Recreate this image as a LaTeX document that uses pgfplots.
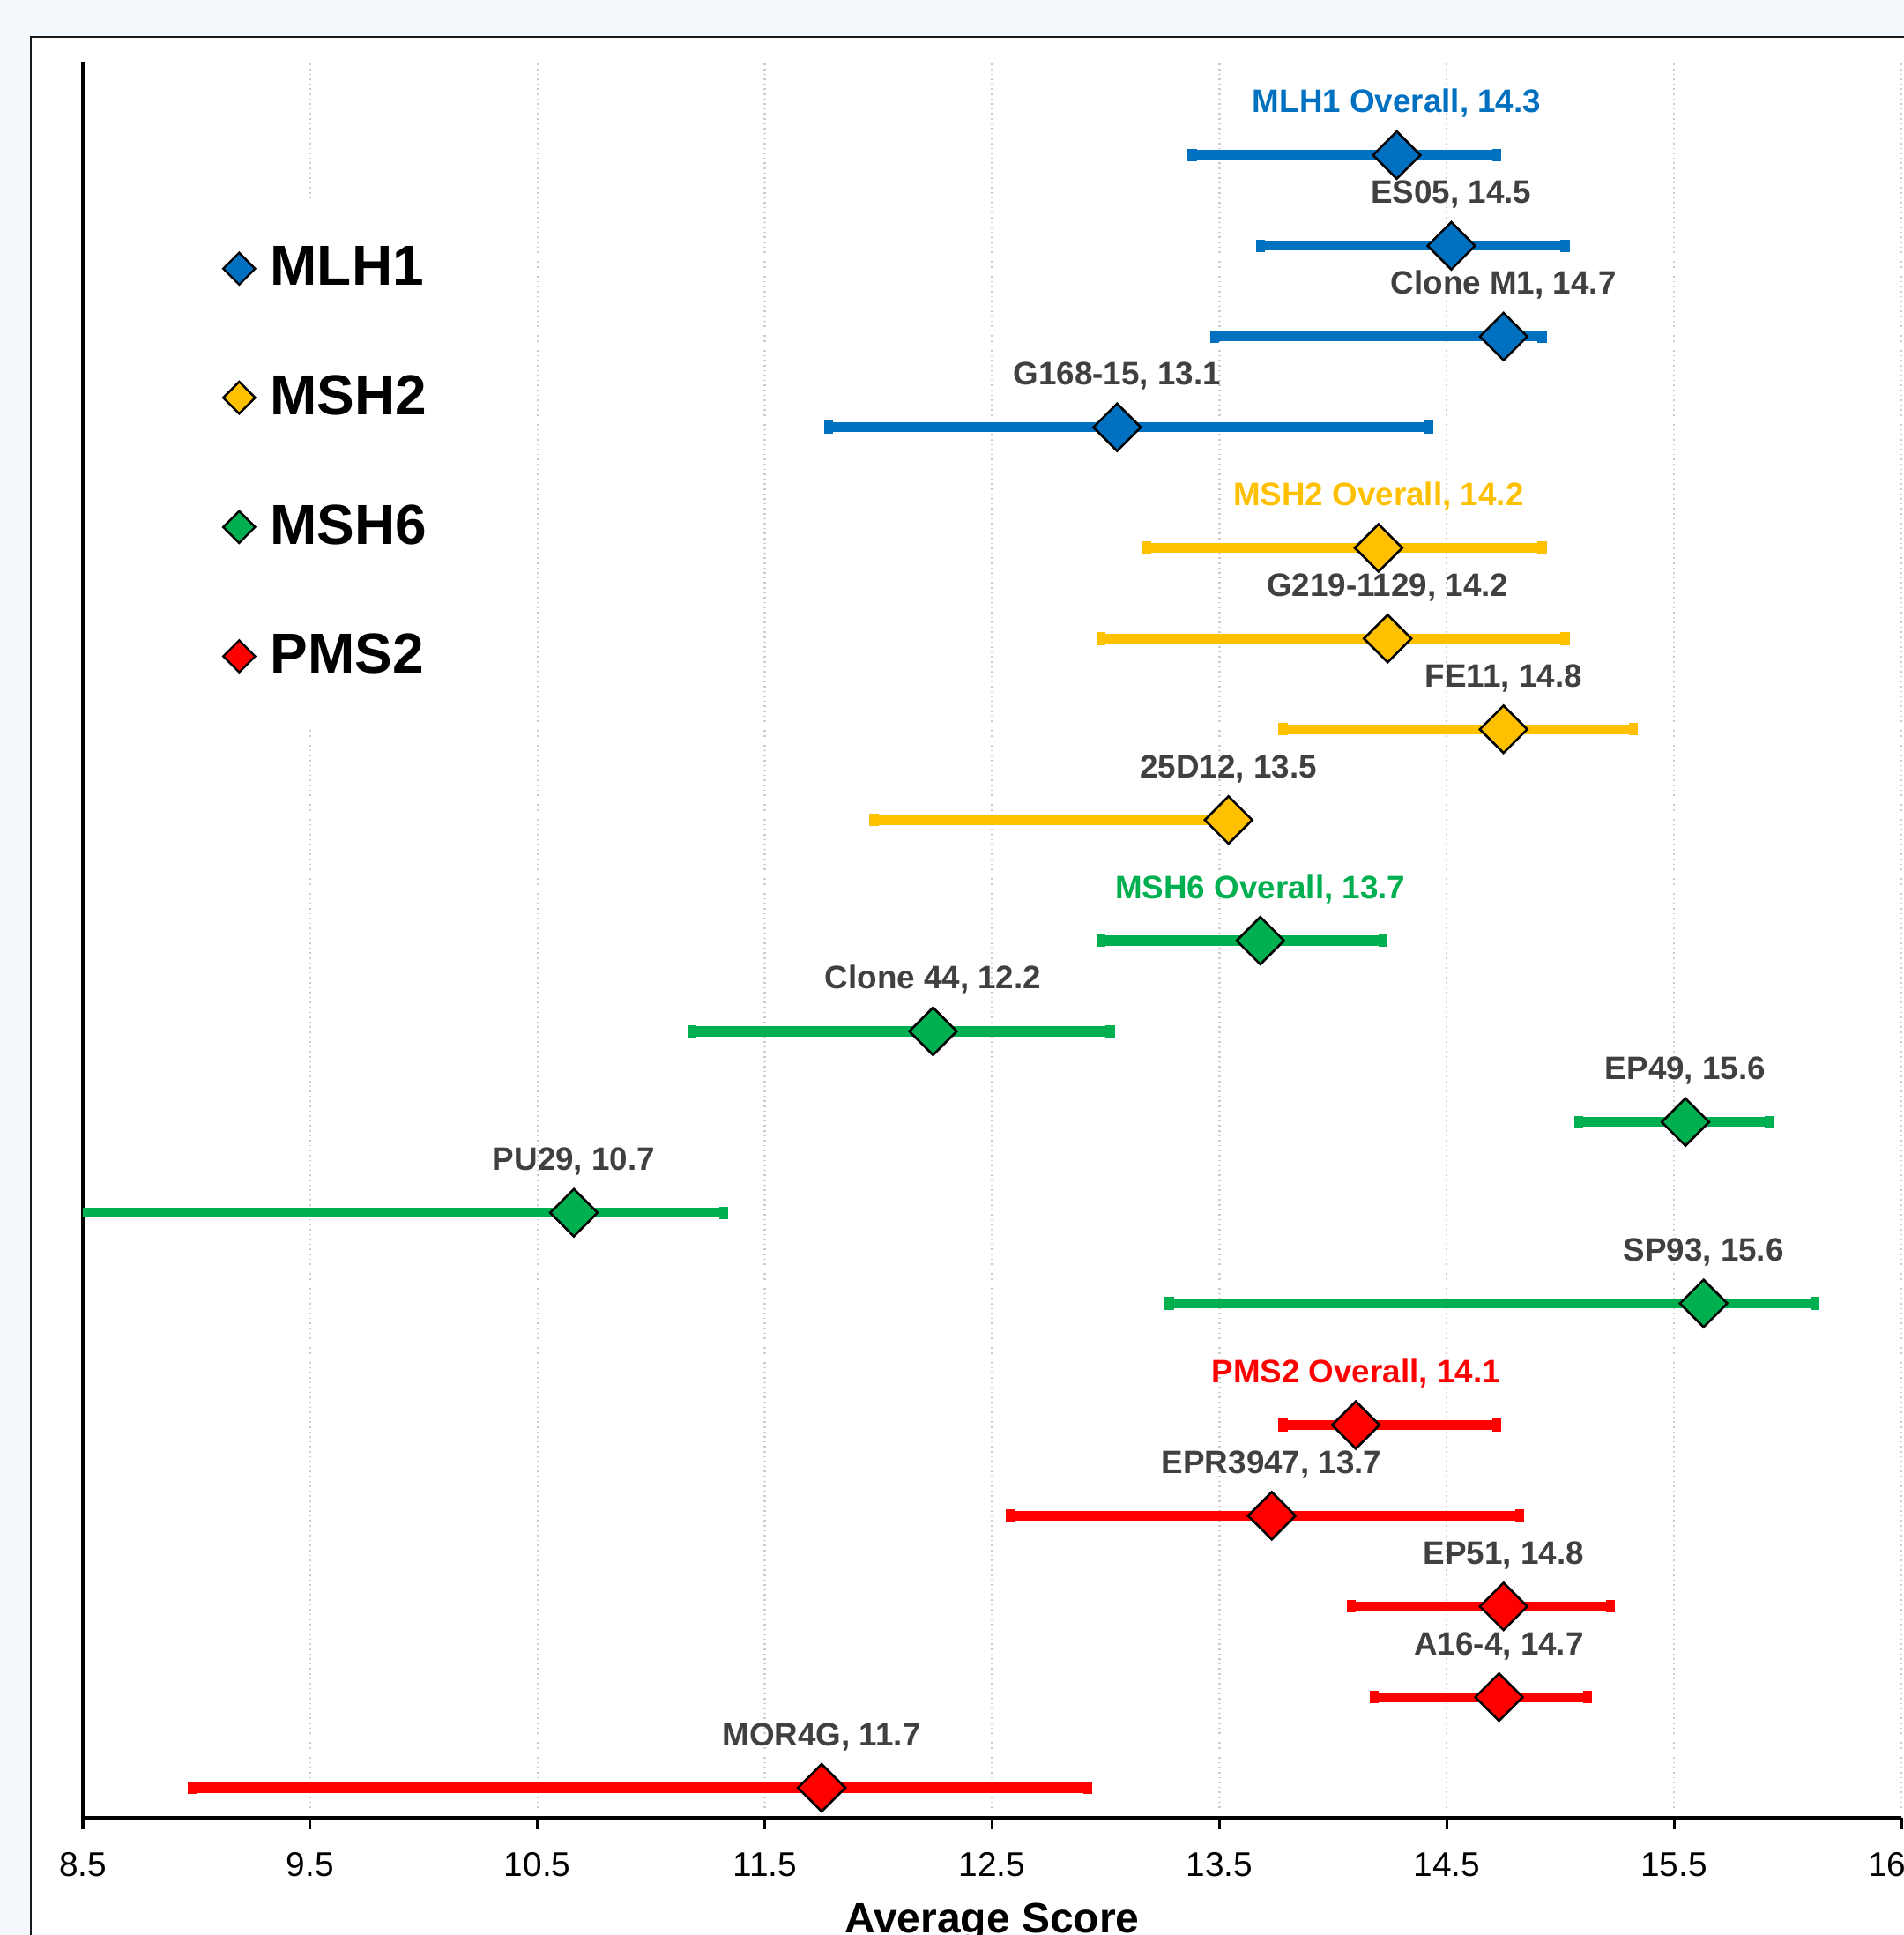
\documentclass[border=0pt]{standalone}
\usepackage{pgfplots}
\pgfplotsset{compat=1.18}
\usepackage{fontspec}
\setmainfont{Liberation Sans}
\definecolor{bgblue}{RGB}{244,249,253}
\definecolor{mlh}{HTML}{0070C0}
\definecolor{msha}{HTML}{FFC000}
\definecolor{mshb}{HTML}{00B050}
\definecolor{pms}{HTML}{FF0000}
\definecolor{labgray}{HTML}{404040}
\newcommand{\labfont}{\bfseries\fontsize{9.2}{11}\selectfont}
% #1 colour, #2 row y, #3 estimate, #4 lower, #5 upper, #6 label, #7 label colour
\newcommand{\ci}[7]{%
  \addplot[forget plot, color=#1, line width=2.8pt, line cap=butt, mark=|, mark size=1.8pt,
    mark options={line width=2.6pt, solid}] coordinates {(#4,#2) (#5,#2)};
  \addplot[forget plot, only marks, mark=square*, mark size=4.75pt,
    mark options={rotate=45, fill=#1, draw=black, line width=0.65pt},
    nodes near coords={#6},
    every node near coord/.append style={anchor=base, yshift=12pt, inner sep=0pt, font=\labfont, text=#7}]
    coordinates {(#3,#2)};
}
\begin{document}
\begin{tikzpicture}
\fill[bgblue] (-23.5pt,-33.25pt) rectangle (516.5pt,515.5pt);
\filldraw[fill=white, draw=black!90, line width=0.6pt] (-14.75pt,-60pt) rectangle (560pt,505pt);
\begin{axis}[
  at={(0pt,0pt)}, anchor=south west,
  scale only axis, width=515.75pt, height=498pt,
  xmin=8.5, xmax=16.5, ymin=0, ymax=19.36,
  axis x line=bottom, axis y line=left,
  axis line style={-, line width=0.8pt, black},
  ytick=\empty,
  xtick={8.5,9.5,10.5,11.5,12.5,13.5,14.5,15.5,16.5},
  /pgf/number format/assume math mode=true,
  xticklabel style={font=\fontsize{9.7}{11}\selectfont, /pgf/number format/fixed,
    /pgf/number format/precision=1, /pgf/number format/fixed zerofill},
  xticklabel shift=3.0pt,
  tick align=outside, major tick length=3.3pt,
  xtick style={line width=0.8pt, black},
  xmajorgrids, grid style={densely dotted, black!20, line width=0.6pt},
  xlabel={Average Score},
  xlabel style={font=\bfseries\fontsize{12}{14}\selectfont, at={(axis description cs:0.5,0)}, anchor=base, yshift=-32.5pt},
  legend image code/.code={\draw[only marks, mark=square*, mark size=3.2pt,
      mark options={rotate=45, draw=black, line width=0.6pt}, #1] plot coordinates {(0pt,0pt)};},
  legend style={at={(0.0613,0.9212)}, anchor=north west, fill=white, draw=none,
    inner xsep=8pt, inner ysep=13pt, row sep=24.0pt, column sep=4.3pt,
    nodes={inner sep=0pt}, font=\bfseries\fontsize{16}{19}\selectfont},
  legend cell align=left,
]
\addlegendimage{fill=mlh}\addlegendentry{MLH1}
\addlegendimage{fill=msha}\addlegendentry{MSH2}
\addlegendimage{fill=mshb}\addlegendentry{MSH6}
\addlegendimage{fill=pms}\addlegendentry{PMS2}
% MLH1
\ci{mlh}{18.33}{14.28}{13.38}{14.72}{MLH1 Overall, 14.3}{mlh}
\ci{mlh}{17.33}{14.52}{13.68}{15.02}{ES05, 14.5}{labgray}
\ci{mlh}{16.33}{14.75}{13.48}{14.92}{Clone M1, 14.7}{labgray}
\ci{mlh}{15.33}{13.05}{11.78}{14.42}{G168-15, 13.1}{labgray}
% MSH2
\ci{msha}{14.00}{14.20}{13.18}{14.92}{MSH2 Overall, 14.2}{msha}
\ci{msha}{13.00}{14.24}{12.98}{15.02}{G219-1129, 14.2}{labgray}
\ci{msha}{12.00}{14.75}{13.78}{15.32}{FE11, 14.8}{labgray}
\ci{msha}{11.00}{13.54}{11.98}{13.58}{25D12, 13.5}{labgray}
% MSH6
\ci{mshb}{9.67}{13.68}{12.98}{14.22}{MSH6 Overall, 13.7}{mshb}
\ci{mshb}{8.67}{12.24}{11.18}{13.02}{Clone 44, 12.2}{labgray}
\ci{mshb}{7.67}{15.55}{15.08}{15.92}{EP49, 15.6}{labgray}
\ci{mshb}{6.67}{10.66}{8.40}{11.32}{PU29, 10.7}{labgray}
\ci{mshb}{5.67}{15.63}{13.28}{16.12}{SP93, 15.6}{labgray}
% PMS2
\ci{pms}{4.33}{14.10}{13.78}{14.72}{PMS2 Overall, 14.1}{pms}
\ci{pms}{3.33}{13.73}{12.58}{14.82}{EPR3947, 13.7}{labgray}
\ci{pms}{2.33}{14.75}{14.08}{15.22}{EP51, 14.8}{labgray}
\ci{pms}{1.33}{14.73}{14.18}{15.12}{A16-4, 14.7}{labgray}
\ci{pms}{0.33}{11.75}{8.98}{12.92}{MOR4G, 11.7}{labgray}
\end{axis}
\pgfresetboundingbox
\path[use as bounding box] (-23.5pt,-33.25pt) rectangle (516.5pt,515.5pt);
\end{tikzpicture}
\end{document}
